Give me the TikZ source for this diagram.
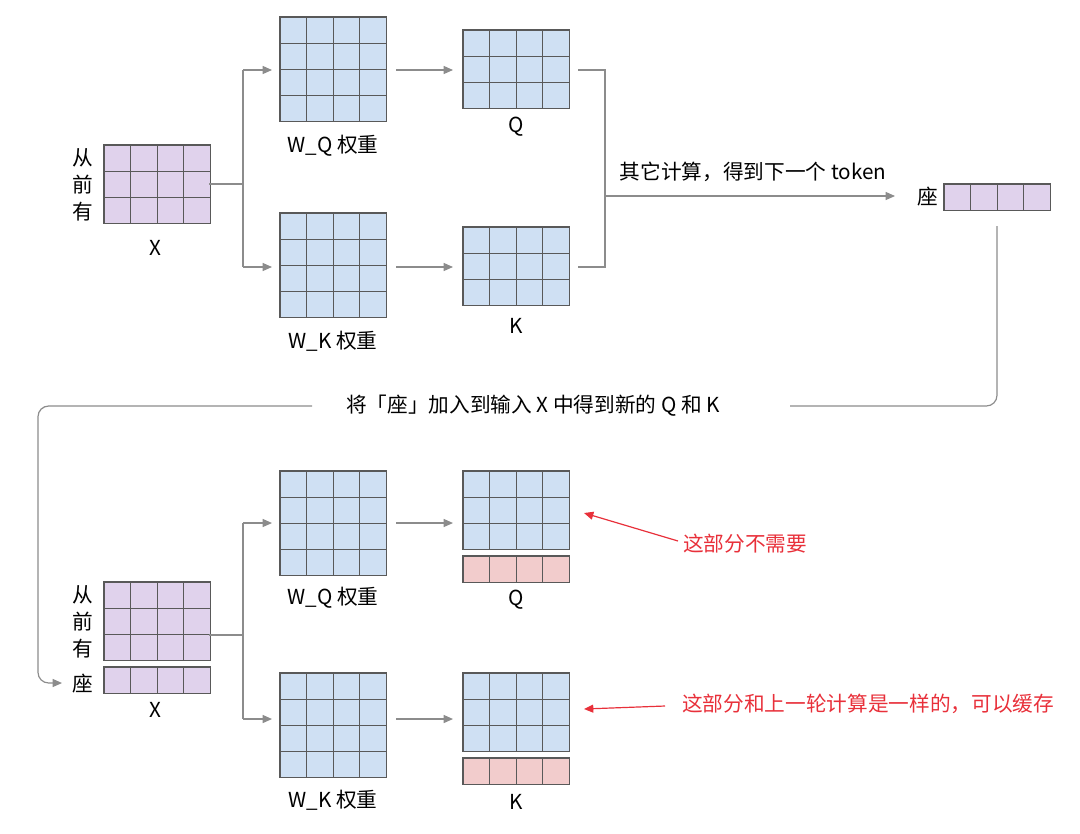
\documentclass[tikz,border=0pt]{standalone}
\usepackage{fontspec}
\setmainfont{Noto Sans CJK SC}
\usetikzlibrary{arrows.meta,calc}
\definecolor{bluec}{HTML}{CFE0F3}
\definecolor{purc}{HTML}{E0D2EC}
\definecolor{pinkc}{HTML}{F2CCCC}
\definecolor{linec}{HTML}{8C8C8C}
\definecolor{redc}{HTML}{E8303A}
\tikzset{
  lbl/.style={font=\fontsize{15.5}{17}\selectfont, inner sep=0pt},
  rlbl/.style={lbl, text=redc},
  conn/.style={draw=linec, line width=0.9pt},
  arr/.style={conn, -{Triangle[length=7pt,width=6pt]}},
  rarr/.style={draw=redc, line width=0.9pt, -{Triangle[length=7pt,width=6pt]}},
}
% \mgrid{name}{x0}{y0}{cols}{rows}{fill}
\newcommand{\mgrid}[6]{%
  \node[draw=black!65, fill=#6, line width=0.8pt, minimum width={#4*19.95pt}, minimum height={#5*19.65pt}, inner sep=0pt, outer sep=0pt, anchor=north west] (#1) at (#2,#3) {};
  \foreach \i in {1,...,#4}{\draw[black!65, line width=0.8pt] ($(#1.north west)+(\i*26.6,0)$) -- ++(0,{(#5)*26.2});}
  \foreach \j in {1,...,#5}{\draw[black!65, line width=0.8pt] ($(#1.north west)+(0,\j*26.2)$) -- ++({(#4)*26.6},0);}
}
\begin{document}
\begin{tikzpicture}[x=0.75pt,y=-0.75pt]
\useasboundingbox (0,0) rectangle (1080,833);
% ---------- top ----------
\mgrid{X1}{104}{145}{4}{3}{purc}
\node[lbl] (c1) at (83,158) {从};
\node[lbl] (c2) at (83,185) {前};
\node[lbl] (c3) at (83,212) {有};
\node[lbl] (xl1) at (155,248) {X};
\mgrid{WQ1}{280}{17}{4}{4}{bluec}
\node[lbl] at (333,146) {W\_Q 权重};
\mgrid{Q1}{463}{30}{4}{3}{bluec}
\node[lbl] at (516,127) {Q};
\mgrid{WK1}{280}{213}{4}{4}{bluec}
\node[lbl] at (333,341) {W\_K 权重};
\mgrid{K1}{463}{227}{4}{3}{bluec}
\node[lbl] at (516,326) {K};
\draw[conn] (209,184) -- (243,184);
\draw[conn] (243,70) -- (243,267);
\draw[arr] (243,70) -- (272,70);
\draw[arr] (243,267) -- (272,267);
\draw[arr] (396,70) -- (453,70);
\draw[arr] (396,267) -- (453,267);
\draw[conn] (578,70) -- (605,70) -- (605,267) -- (578,267);
\node[lbl] (calc) at (753,172) {其它计算，得到下一个 token};
\draw[arr] (605,196) -- (895,196);
\node[lbl] (zuo) at (928,197) {座};
\mgrid{V1}{944}{184}{4}{1}{purc}
\node[lbl] (mid) at (533,406) {将「座」加入到输入 X 中得到新的 Q 和 K};
\draw[conn, rounded corners=8pt] (997,226) -- (997,406) -- (790,406);
\draw[arr, rounded corners=8pt] (312,406) -- (38,406) -- (38,683) -- (62,683);
% ---------- bottom ----------
\mgrid{X2}{104}{582}{4}{3}{purc}
\mgrid{V2}{104}{667}{4}{1}{purc}
\node[lbl] at (83,595) {从};
\node[lbl] at (83,622) {前};
\node[lbl] at (83,649) {有};
\node[lbl] at (83,684) {座};
\node[lbl] at (155,710) {X};
\mgrid{WQ2}{280}{471}{4}{4}{bluec}
\node[lbl] at (333,598) {W\_Q 权重};
\mgrid{Q2}{463}{471}{4}{3}{bluec}
\mgrid{Q2b}{463}{556}{4}{1}{pinkc}
\node[lbl] at (516,600) {Q};
\mgrid{WK2}{280}{673}{4}{4}{bluec}
\node[lbl] at (333,800) {W\_K 权重};
\mgrid{K2}{463}{673}{4}{3}{bluec}
\mgrid{K2b}{463}{758}{4}{1}{pinkc}
\node[lbl] at (516,802) {K};
\draw[conn] (209,635) -- (243,635);
\draw[conn] (243,523) -- (243,719);
\draw[arr] (243,523) -- (272,523);
\draw[arr] (243,719) -- (272,719);
\draw[arr] (396,523) -- (453,523);
\draw[arr] (396,719) -- (453,719);
\node[rlbl] (r1) at (745,544) {这部分不需要};
\draw[rarr] (678,541) -- (584,513);
\node[rlbl] (r2) at (868,704) {这部分和上一轮计算是一样的，可以缓存};
\draw[rarr] (665,706) -- (584,709);
\end{tikzpicture}
\end{document}
